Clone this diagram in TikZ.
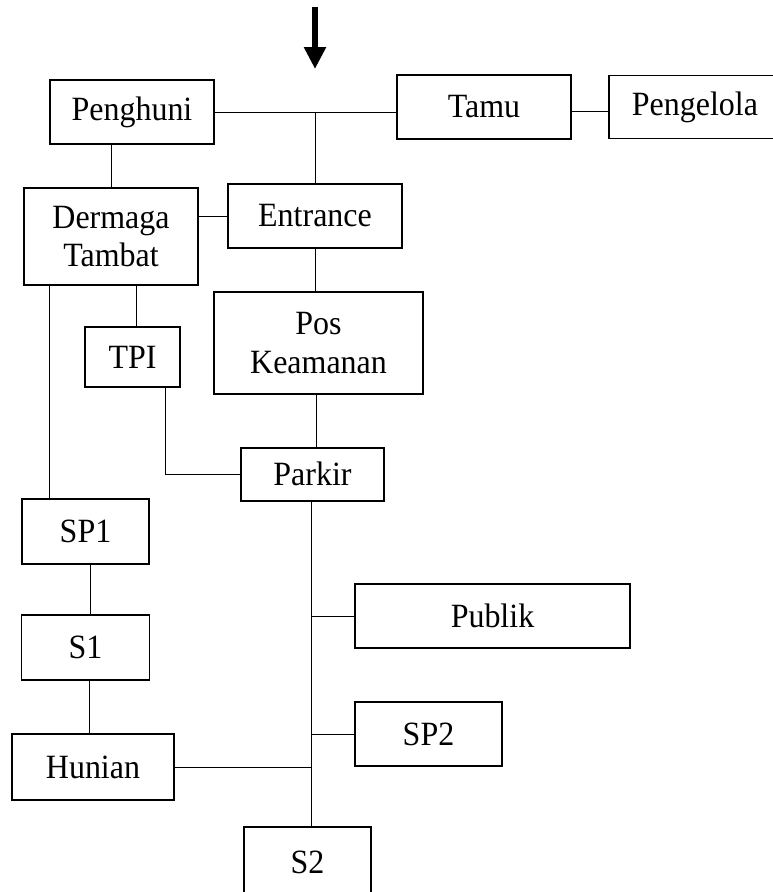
\documentclass[tikz,border=0pt]{standalone}
\usepackage{fontspec}
\setmainfont{Liberation Serif}[FakeStretch=0.94]
\usetikzlibrary{positioning,arrows.meta}

\newcommand{\boxfont}{\fontsize{34}{38.5}\selectfont}

\begin{document}
\begin{tikzpicture}[x=1pt, y=-1pt, node distance=40pt,
    box/.style={draw, line width=1.9pt, inner sep=0pt, align=center, font=\boxfont},
    link/.style={line width=0.9pt}]
			\useasboundingbox (0,0) rectangle (773,892);
			
			\node[box, minimum width=174pt, minimum height=64pt] (ent) at (315,216) {Entrance};
			\node[box, minimum width=209pt, minimum height=102pt, below=42pt of ent, xshift=3.5pt] (pos) {Pos\\Keamanan};
			\node[box, minimum width=143pt, minimum height=53pt, below=52pt of pos, xshift=-6pt] (park) {Parkir};
			
			\node[box, minimum width=164pt, minimum height=64pt] (pen) at (132,112) {Penghuni};
			\node[box, minimum width=174pt, minimum height=64pt] (tamu) at (484,107) {Tamu};
			\node[box, minimum width=172pt, minimum height=63pt, right=36pt of tamu] (peng) {Pengelola};
			
			\node[box, minimum width=174pt, minimum height=97pt] (derm) at (111,236.5) {Dermaga\\Tambat};
			\node[box, minimum width=95pt, minimum height=60pt] (tpi) at (132.5,357) {TPI};
			
			\node[box, minimum width=127pt, minimum height=65pt] (sp1) at (85.5,531.5) {SP1};
			\node[box, minimum width=128pt, minimum height=65pt, below=49pt of sp1] (s1) {S1};
			\node[box, minimum width=162pt, minimum height=66pt] (hun) at (93,767) {Hunian};
			
			\node[box, minimum width=275pt, minimum height=64pt] (pub) at (492.5,616) {Publik};
			\node[box, minimum width=147pt, minimum height=64pt] (sp2) at (428.5,734) {SP2};
			\node[box, minimum width=127pt, minimum height=70pt] (s2) at (307.5,862) {S2};
			
			% entry arrow
			\coordinate (in) at (315,7);
			\coordinate (inend) at (315,69);
			\draw[line width=6pt, -{Triangle[length=22pt,width=21pt]}] (in) -- (inend);
			
			\coordinate (jA) at (pen.east -| ent.north);
			\draw[link] (pen.east) -- (pen.east -| tamu.west);
			\draw[link] (jA) -- (ent.north);
			\draw[link] ([yshift=-4pt]tamu.east) -- ([yshift=-4pt]tamu.east -| peng.west);
			\draw[link] (derm.north) -- (derm.north |- pen.south);
			\draw[link] (ent.west) -- (ent.west -| derm.east);
			\draw[link] (ent.south) -- (ent.south |- pos.north);
			\draw[link] ([xshift=3.5pt]tpi.north) -- ([xshift=3.5pt]tpi.north |- derm.south);
			\draw[link] ([xshift=-16pt]tpi.south east) |- (park.west);
			\draw[link] ([xshift=-2.5pt]pos.south) -- ([xshift=-2.5pt]pos.south |- park.north);
			\draw[link] ([xshift=-36pt]sp1.north) -- ([xshift=-36pt]sp1.north |- derm.south);
			\draw[link] ([xshift=4.5pt]sp1.south) -- ([xshift=4.5pt]sp1.south |- s1.north);
			\draw[link] ([xshift=3.5pt]s1.south) -- ([xshift=3.5pt]s1.south |- hun.north);
			
			\coordinate (trunk) at ([xshift=-1.5pt]park.south);
			\draw[link] (trunk) -- (trunk |- s2.north);
			\draw[link] (pub.west) -- (pub.west -| trunk);
			\draw[link] (sp2.west) -- (sp2.west -| trunk);
			\draw[link] (hun.east) -- (hun.east -| trunk);
			
\end{tikzpicture}
\end{document}
